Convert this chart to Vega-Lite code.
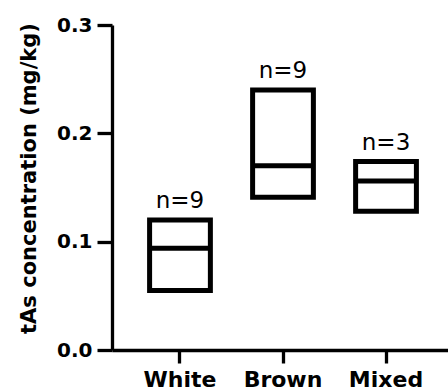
{
  "$schema": "https://vega.github.io/schema/vega-lite/v6.json",
  "width": 342,
  "height": 325,
  "autosize": {"type": "none"},
  "padding": {"left": 112, "top": 25, "right": 0, "bottom": 41},
  "background": "white",
  "config": {
    "view": {"stroke": null},
    "font": "DejaVu Sans",
    "axis": {"domainColor": "black", "tickColor": "black", "labelColor": "black", "titleColor": "black", "grid": false}
  },
  "data": {
    "values": [
      {"group": "White", "lo": 0.055, "hi": 0.120, "med": 0.094, "n": "n=9"},
      {"group": "Brown", "lo": 0.141, "hi": 0.240, "med": 0.170, "n": "n=9"},
      {"group": "Mixed", "lo": 0.128, "hi": 0.174, "med": 0.156, "n": "n=3"}
    ]
  },
  "encoding": {
    "x": {
      "field": "group",
      "type": "nominal",
      "sort": ["White", "Brown", "Mixed"],
      "scale": {"paddingInner": 0, "paddingOuter": 0.16},
      "axis": {
        "title": null,
        "labelAngle": 0,
        "labelFont": "DejaVu Sans",
        "labelFontWeight": "bold",
        "labelFontSize": 22,
        "labelBaseline": "alphabetic",
        "labelPadding": 23,
        "tickSize": 13,
        "tickWidth": 3.3,
        "domainWidth": 3.3
      }
    }
  },
  "layer": [
    {
      "mark": {"type": "bar", "fill": "white", "fillOpacity": 1, "stroke": "black", "strokeWidth": 5, "opacity": 1, "width": {"band": 0.59}},
      "encoding": {
        "y": {
          "field": "lo",
          "type": "quantitative",
          "scale": {"domain": [0, 0.3], "nice": false, "zero": true},
          "axis": {
            "title": "tAs concentration (mg/kg)",
            "titleFont": "DejaVu Sans",
            "titleFontWeight": "bold",
            "titleFontSize": 21,
            "titleAngle": -90,
            "titleAlign": "center",
            "titleBaseline": "middle",
            "titleX": -83,
            "titleY": 153,
            "values": [0, 0.1, 0.2, 0.3],
            "format": ".1f",
            "labelFont": "DejaVu Sans",
            "labelFontWeight": "bold",
            "labelFontSize": 20,
            "labelPadding": 5,
            "tickSize": 15,
            "tickWidth": 3.3,
            "domainWidth": 3.3
          }
        },
        "y2": {"field": "hi"}
      }
    },
    {
      "mark": {"type": "tick", "color": "black", "opacity": 1, "thickness": 5, "size": 61},
      "encoding": {"y": {"field": "med", "type": "quantitative"}}
    },
    {
      "mark": {"type": "text", "dy": -12, "baseline": "alphabetic", "align": "center", "fontSize": 23, "font": "DejaVu Sans", "color": "black"},
      "encoding": {
        "y": {"field": "hi", "type": "quantitative"},
        "text": {"field": "n"}
      }
    }
  ]
}
